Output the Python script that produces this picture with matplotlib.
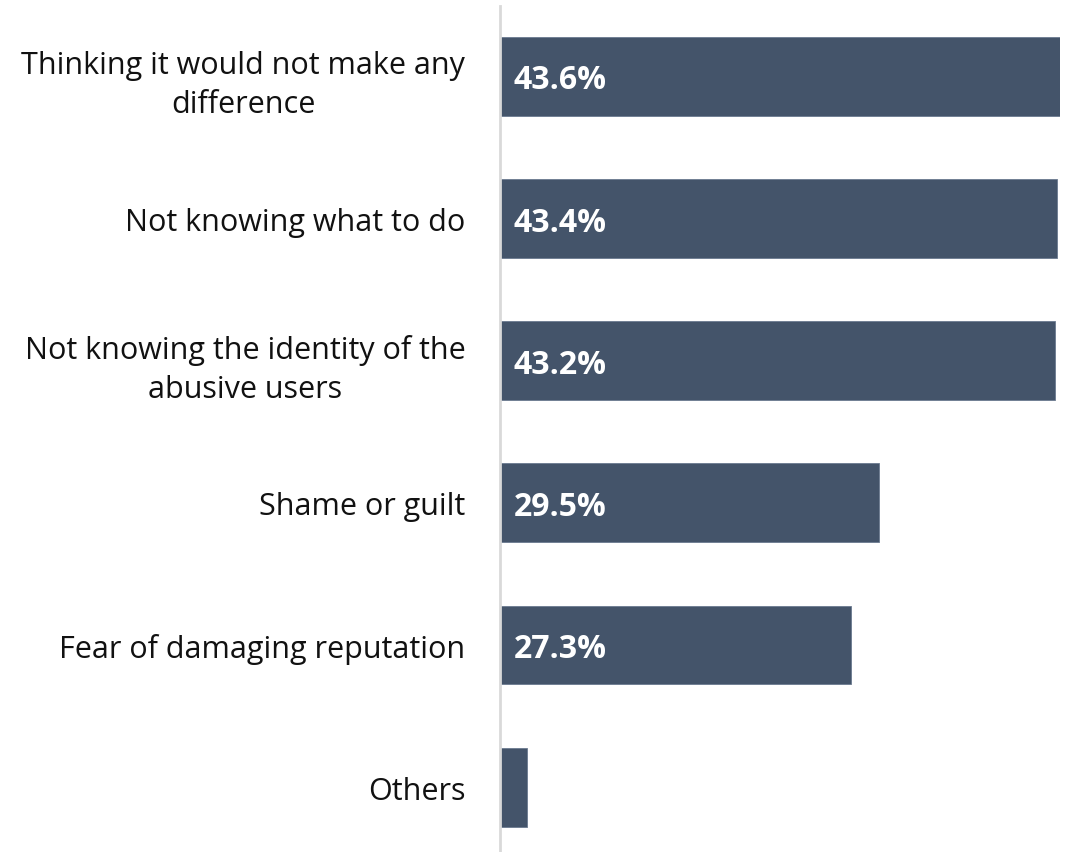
import matplotlib
matplotlib.use("Agg")
import matplotlib.pyplot as plt

plt.rcParams['font.family'] = ['Open Sans', 'DejaVu Sans']

categories = [
    "Thinking it would not make any\ndifference",
    "Not knowing what to do",
    "Not knowing the identity of the\nabusive users",
    "Shame or guilt",
    "Fear of damaging reputation",
    "Others",
]
values = [43.6, 43.4, 43.2, 29.5, 27.3, 2.1]
value_labels = ["43.6%", "43.4%", "43.2%", "29.5%", "27.3%", ""]

bar_color = "#44546a"

fig = plt.figure(figsize=(10.71, 8.53), dpi=100)
ax = fig.add_axes([500 / 1071, 0.0, 560 / 1071, 846 / 853])

pos = list(range(len(categories)))
ax.barh(pos, values, height=0.555, color=bar_color, edgecolor="#6b7a8f", linewidth=0.6)

for y, v, lab in zip(pos, values, value_labels):
    if lab:
        ax.annotate(lab, xy=(0, y), xytext=(10, -2.5), textcoords="offset points",
                    ha="left", va="center", color="white", fontsize=23, fontweight="bold")

ax.set_xlim(0, 43.6)
ax.set_ylim(5.456, -0.495)
ax.set_yticks(pos)
ax.set_yticklabels(categories, fontsize=22, color="#111111", ha="right")
ax.tick_params(axis="y", length=0, pad=25)
ax.set_xticks([])

for side in ["top", "right", "bottom"]:
    ax.spines[side].set_visible(False)
ax.spines["left"].set_color("#d9d9d9")
ax.spines["left"].set_linewidth(2)

# center the two-line labels like the single-line ones
for t in ax.get_yticklabels():
    t.set_multialignment("center")
    t.set_linespacing(1.4)

fig.savefig("out.png", dpi=100)
